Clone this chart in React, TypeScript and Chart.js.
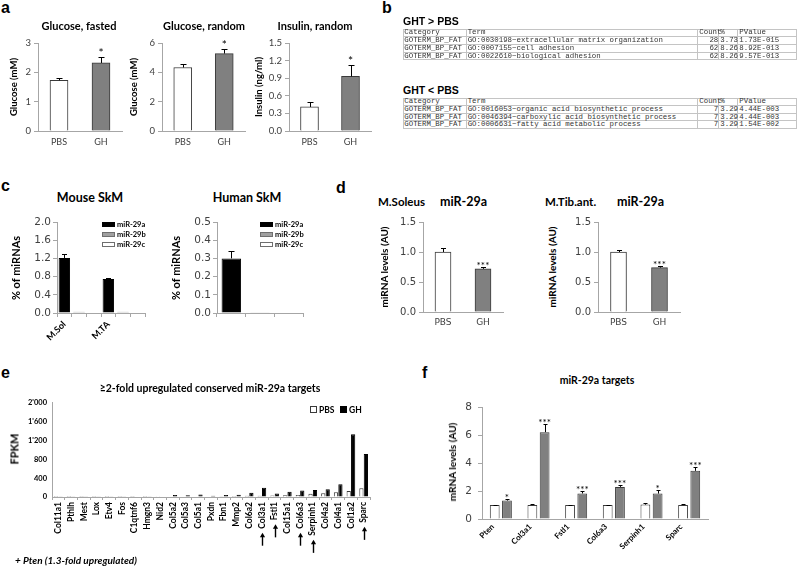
import React, { useEffect, useRef } from 'react';
import { Chart, registerables } from 'chart.js';

Chart.register(...registerables);

/* ---------------- data ---------------- */
// panel a
const treatGroups = ['PBS', 'GH'];
const glucoseFasted = [1.73, 2.32];
const glucoseFastedErr = [0.07, 0.2];
const glucoseFastedTicks = [0, 1, 2, 3];
const glucoseRandom = [4.33, 5.28];
const glucoseRandomErr = [0.27, 0.32];
const glucoseRandomTicks = [0, 2, 4, 6];
const insulinRandom = [0.41, 0.93];
const insulinRandomErr = [0.09, 0.19];
const insulinRandomTicks = [0, 0.3, 0.6, 0.9, 1.2, 1.5];
const sigA = ['', '*'];

// panel b
const goHeader = ['Category', 'Term', 'Count', '%', 'PValue'];
const goUp = [
  ['GOTERM_BP_FAT', 'GO:0030198~extracellular matrix organization', '28', '3.73', '1.73E-015'],
  ['GOTERM_BP_FAT', 'GO:0007155~cell adhesion', '62', '8.26', '8.92E-013'],
  ['GOTERM_BP_FAT', 'GO:0022610~biological adhesion', '62', '8.26', '9.57E-013'],
];
const goDown = [
  ['GOTERM_BP_FAT', 'GO:0016053~organic acid biosynthetic process', '7', '3.29', '4.44E-003'],
  ['GOTERM_BP_FAT', 'GO:0046394~carboxylic acid biosynthetic process', '7', '3.29', '4.44E-003'],
  ['GOTERM_BP_FAT', 'GO:0006631~fatty acid metabolic process', '7', '3.29', '1.54E-002'],
];

// panel c
const mirNames = ['miR-29a', 'miR-29b', 'miR-29c'];
const mouseTissues = ['M.Sol', 'M.TA'];
const mouseMir29a = [1.21, 0.75];
const mouseMir29aErr = [0.08, 0.01];
const mouseMir29b = [0.03, 0.03];
const mouseMir29c = [0, 0];
const mouseTicks = [0, 0.4, 0.8, 1.2, 1.6, 2.0];
const humanTissues = [''];
const humanMir29a = [0.3];
const humanMir29aErr = [0.04];
const humanMir29b = [0.004];
const humanMir29c = [0];
const humanTicks = [0, 0.1, 0.2, 0.3, 0.4, 0.5];

// panel d
const soleusMir29a = [1.0, 0.72];
const soleusMir29aErr = [0.07, 0.03];
const tibMir29a = [1.0, 0.74];
const tibMir29aErr = [0.03, 0.03];
const mirLevelTicks = [0, 0.5, 1.0, 1.5];
const sigD = ['', '***'];

// panel e
const targetGenes = ['Col11a1', 'Pthlh', 'Mest', 'Lox', 'Etv4', 'Fos', 'C1qtnf6', 'Hmgn3', 'Nid2', 'Col5a2', 'Col5a3', 'Col5a1', 'Pxdn', 'Fbn1', 'Mmp2', 'Col6a2', 'Col3a1', 'Fstl1', 'Col15a1', 'Col6a3', 'Serpinh1', 'Col4a2', 'Col4a1', 'Col1a2', 'Sparc'];
const fpkmPBS = [1, 1, 1, 1, 1, 1, 2, 2, 3, 10, 8, 12, 10, 15, 20, 25, 25, 30, 35, 40, 68, 80, 100, 125, 185];
const fpkmGH = [5, 4, 4, 4, 3, 4, 10, 6, 12, 42, 35, 55, 25, 40, 45, 90, 195, 75, 110, 140, 150, 165, 270, 1330, 910];
const fpkmTicks = [0, 200, 400, 600, 800, 1000, 1200, 1400, 1600, 1800, 2000];
const validatedGenes = ['Col3a1', 'Fstl1', 'Col6a3', 'Serpinh1', 'Sparc'];

// panel f
const qpcrGenes = ['Pten', 'Col3a1', 'Fstl1', 'Col6a3', 'Serpinh1', 'Sparc'];
const qpcrPBS = [1.0, 1.0, 1.0, 1.0, 1.03, 1.0];
const qpcrPBSErr = [0.03, 0.06, 0.03, 0.03, 0.1, 0.05];
const qpcrGH = [1.32, 6.22, 1.83, 2.3, 1.82, 3.45];
const qpcrGHErr = [0.08, 0.6, 0.2, 0.13, 0.27, 0.3];
const sigF = ['*', '***', '***', '***', '*', '***'];
const mrnaTicks = [0, 2, 4, 6, 8];

/* ---------------- styles ---------------- */
const FONT = 'Lato, "Liberation Sans", Arial, sans-serif';
const VFONT = '"DejaVu Sans", Verdana, sans-serif';
const ARIAL = '"Liberation Sans", Arial, sans-serif';
const MONO = '"Liberation Mono", "DejaVu Sans Mono", monospace';
const AXIS = '#a6a6a6';
const TICKC = '#404040';
const EDGE = '#3a3a3a';
const GRAYBAR = '#808080';

/* ---------------- plugins ---------------- */
const errorBars = {
  id: 'errorBars',
  afterDatasetsDraw(chart: any, _a: any, opts: any) {
    const { ctx } = chart;
    const ys = chart.scales.y;
    const cap = opts.cap ?? 6;
    chart.data.datasets.forEach((ds: any, di: number) => {
      const meta = chart.getDatasetMeta(di);
      meta.data.forEach((el: any, i: number) => {
        const v = ds.data[i];
        if (v === null || v === undefined) return;
        let top = el.y;
        const e = ds.errors ? ds.errors[i] : 0;
        const x = Math.round(el.x) + 0.5;
        if (e) {
          const yE = Math.round(ys.getPixelForValue(v + e)) + 0.5;
          ctx.save();
          ctx.strokeStyle = opts.color ?? '#000';
          ctx.lineWidth = 1;
          ctx.beginPath();
          ctx.moveTo(x, el.y);
          ctx.lineTo(x, yE);
          ctx.moveTo(x - cap / 2, yE);
          ctx.lineTo(x + cap / 2, yE);
          ctx.stroke();
          ctx.restore();
          top = yE;
        }
        const s = ds.stars ? ds.stars[i] : '';
        if (s) {
          ctx.save();
          ctx.fillStyle = '#000';
          ctx.font = opts.starFont ?? `11px ${FONT}`;
          ctx.textAlign = 'center';
          ctx.textBaseline = 'middle';
          ctx.fillText(s, el.x, top - (opts.starGap ?? 5));
          ctx.restore();
        }
      });
    });
  },
};

const geneArrows = {
  id: 'geneArrows',
  afterDraw(chart: any, _a: any, opts: any) {
    if (!opts || !opts.genes) return;
    const { ctx } = chart;
    const xs = chart.scales.x;
    ctx.save();
    ctx.font = opts.font;
    ctx.fillStyle = '#000';
    ctx.strokeStyle = '#000';
    opts.genes.forEach((g: string) => {
      const i = chart.data.labels.indexOf(g);
      if (i < 0) return;
      const px = Math.round(xs.getPixelForValue(i)) + 0.5;
      const len = ctx.measureText(g).width;
      const top = xs.top + opts.labelStart + len + opts.gap;
      const bottom = top + opts.length;
      ctx.lineWidth = 1.4;
      ctx.beginPath();
      ctx.moveTo(px, bottom);
      ctx.lineTo(px, top + 3);
      ctx.stroke();
      ctx.beginPath();
      ctx.moveTo(px, top);
      ctx.lineTo(px - 2.6, top + 4.5);
      ctx.lineTo(px + 2.6, top + 4.5);
      ctx.closePath();
      ctx.fill();
    });
    ctx.restore();
  },
};

/* ---------------- helpers ---------------- */
function yAxis(ticks: number[], font: any, fmt: (v: number) => string, o: any = {}) {
  return {
    stacked: o.stacked ?? false,
    min: ticks[0],
    max: ticks[ticks.length - 1],
    afterBuildTicks: (s: any) => {
      s.ticks = ticks.map((v) => ({ value: v }));
    },
    ticks: { font, color: o.color ?? TICKC, padding: o.padding ?? 3, callback: (v: any) => fmt(Number(v)) },
    grid: { display: true, drawOnChartArea: false, drawTicks: o.tickMarks ?? true, tickLength: o.tickLength ?? 4, color: AXIS },
    border: { display: true, color: AXIS },
  };
}

function xAxis(font: any, o: any = {}) {
  return {
    stacked: o.stacked ?? false,
    ticks: {
      font,
      color: o.color ?? TICKC,
      padding: o.padding ?? 4,
      autoSkip: false,
      minRotation: o.rot ?? 0,
      maxRotation: o.rot ?? 0,
      labelOffset: o.labelOffset ?? 0,
    },
    grid: { display: true, drawOnChartArea: false, drawTicks: o.tickMarks ?? false, tickLength: o.tickLength ?? 4, color: AXIS, offset: true },
    border: { display: true, color: AXIS },
  };
}

type Area = { l: number; t: number; r: number; b: number };

function ChartCanvas(props: { area: Area; yW: number; xH: number; padT?: number; padR?: number; make: () => any }) {
  const { area, yW, xH } = props;
  const padT = props.padT ?? 12;
  const padR = props.padR ?? 6;
  const ref = useRef<HTMLCanvasElement | null>(null);
  const w = area.r - area.l + yW + padR;
  const h = area.b - area.t + padT + xH;
  useEffect(() => {
    if (!ref.current) return;
    const cfg = props.make();
    const o = cfg.options;
    o.responsive = false;
    o.maintainAspectRatio = false;
    o.animation = false;
    o.devicePixelRatio = 1;
    o.layout = { padding: { top: padT, right: padR, left: 0, bottom: 0 } };
    o.scales.x.afterFit = (s: any) => {
      s.height = xH;
    };
    o.scales.y.afterFit = (s: any) => {
      s.width = yW;
    };
    o.plugins = Object.assign({ legend: { display: false }, tooltip: { enabled: false }, title: { display: false } }, o.plugins || {});
    const chart = new Chart(ref.current, cfg);
    return () => chart.destroy();
  }, []);
  return (
    <canvas
      ref={ref}
      width={w}
      height={h}
      style={{ position: 'absolute', left: area.l - yW, top: area.t - padT, width: w, height: h }}
    />
  );
}

function place(vals: number[], slot: number, per: number) {
  const out: (number | null)[] = new Array(vals.length * per).fill(null);
  vals.forEach((v, t) => {
    out[t * per + slot] = v;
  });
  return out;
}

const fmt0 = (v: number) => String(Math.round(v));
const fmt1 = (v: number) => v.toFixed(1);
const fmtK = (v: number) => {
  const n = Math.round(v);
  if (n >= 1000) return `${Math.floor(n / 1000)}'${String(n % 1000).padStart(3, '0')}`;
  return String(n);
};

function simpleBar(vals: number[], errs: number[], ticks: number[], fmt: (v: number) => string, stars: string[], yFont: any, xFont: any, thickness: number, starOpts: any) {
  return () => ({
    type: 'bar',
    data: {
      labels: treatGroups,
      datasets: [
        {
          data: vals,
          errors: errs,
          stars,
          backgroundColor: ['#ffffff', GRAYBAR],
          borderColor: EDGE,
          borderWidth: 1,
          barThickness: thickness,
        },
      ],
    },
    options: {
      scales: {
        x: xAxis(xFont, { padding: starOpts.xPad ?? 6 }),
        y: yAxis(ticks, yFont, fmt, { padding: starOpts.yPad ?? 3 }),
      },
      plugins: { errorBars: { cap: starOpts.cap, starFont: starOpts.starFont, starGap: starOpts.starGap } },
    },
    plugins: [errorBars],
  });
}

function mirDatasets(a: number[], aErr: number[], b: number[], c: number[], per: number) {
  return [
    { label: mirNames[0], data: place(a, 0, per), errors: place(aErr, 0, per), backgroundColor: '#000', borderColor: '#000', borderWidth: 1 },
    { label: mirNames[1], data: place(b, 1, per), backgroundColor: '#a0a0a0', borderColor: '#6e6e6e', borderWidth: 1 },
    { label: mirNames[2], data: place(c, 2, per), backgroundColor: '#ffffff', borderColor: '#6e6e6e', borderWidth: 1 },
  ];
}

/* ---------------- text helpers ---------------- */
function Txt(p: { x: number; y: number; text: string; size: number; weight?: number; family?: string; center?: boolean; italic?: boolean; color?: string }) {
  return (
    <div
      style={{
        position: 'absolute',
        left: p.x,
        top: p.y,
        transform: p.center === false ? 'translateY(-50%)' : 'translate(-50%,-50%)',
        whiteSpace: 'nowrap',
        fontFamily: p.family ?? FONT,
        fontSize: p.size,
        fontWeight: p.weight ?? 700,
        fontStyle: p.italic ? 'italic' : 'normal',
        color: p.color ?? '#000',
        lineHeight: 1,
      }}
    >
      {p.text}
    </div>
  );
}

function VTxt(p: { x: number; y: number; text: string; size: number; weight?: number; family?: string }) {
  return (
    <div
      style={{
        position: 'absolute',
        left: p.x,
        top: p.y,
        transform: 'translate(-50%,-50%) rotate(-90deg)',
        whiteSpace: 'nowrap',
        fontFamily: p.family ?? FONT,
        fontSize: p.size,
        fontWeight: p.weight ?? 700,
        lineHeight: 1,
      }}
    >
      {p.text}
    </div>
  );
}

function Letter(p: { x: number; y: number; ch: string }) {
  return (
    <div style={{ position: 'absolute', left: p.x, top: p.y, fontFamily: ARIAL, fontWeight: 700, fontSize: 16, lineHeight: 1 }}>{p.ch}</div>
  );
}

const colW = [63.4, 231.6, 21, 19, 58.4];
const rightCols = [false, false, true, true, false];

function GoTable(p: { top: number; rows: string[][] }) {
  const all = [goHeader, ...p.rows];
  const rowH = 7.8;
  let x0 = 403.3;
  const lefts = colW.map((w) => {
    const l = x0;
    x0 += w;
    return l;
  });
  return (
    <>
      {all.map((row, r) =>
        row.map((cell, c) => (
          <div
            key={`${r}-${c}`}
            style={{
              position: 'absolute',
              left: lefts[c] - (c > 0 ? 1 : 0),
              top: p.top + r * rowH - (r > 0 ? 1 : 0),
              width: colW[c] + (c > 0 ? 1 : 0),
              height: rowH + (r > 0 ? 1 : 0),
              boxSizing: 'border-box',
              border: '1px solid #c4c4c4',
            }}
          />
        ))
      )}
      {all.map((row, r) =>
        row.map((cell, c) => (
          <div
            key={`t${r}-${c}`}
            style={{
              position: 'absolute',
              left: lefts[c] + 1,
              top: p.top + r * rowH + rowH / 2,
              width: colW[c] - 2,
              transform: 'translateY(-50%)',
              fontFamily: MONO,
              fontSize: 7.4,
              lineHeight: 1,
              color: '#333',
              whiteSpace: 'nowrap',
              textAlign: r > 0 && rightCols[c] ? 'right' : 'left',
            }}
          >
            {cell}
          </div>
        ))
      )}
    </>
  );
}

function MirLegend(p: { x: number; y: number }) {
  const fills = ['#000', '#a0a0a0', '#fff'];
  const edges = ['#000', '#6e6e6e', '#6e6e6e'];
  return (
    <>
      {mirNames.map((n, i) => (
        <React.Fragment key={n}>
          <div
            style={{
              position: 'absolute',
              left: p.x,
              top: p.y + i * 10 - 2.5,
              width: 13,
              height: 5,
              boxSizing: 'border-box',
              background: fills[i],
              border: `1px solid ${edges[i]}`,
            }}
          />
          <Txt x={p.x + 15} y={p.y + i * 10} text={n} size={7.5} center={false} />
        </React.Fragment>
      ))}
    </>
  );
}

/* ---------------- app ---------------- */
export default function App() {
  useEffect(() => {
    document.body.style.margin = '0';
  }, []);

  const aY = { family: FONT, size: 9.5 };
  const aX = { family: FONT, size: 9 };
  const vY = { family: VFONT, size: 10 };
  const vX = { family: VFONT, size: 9 };
  const aStar = { cap: 6, starFont: `12px ${FONT}`, starGap: 4, xPad: 6 };
  const dStar = { cap: 5, starFont: `10px ${FONT}`, starGap: 2, xPad: 5 };

  return (
    <div style={{ position: 'absolute', left: 0, top: 0, width: 798, height: 566, background: '#fff', overflow: 'hidden' }}>
      {/* panel a */}
      <ChartCanvas area={{ l: 38, t: 43, r: 122, b: 131 }} yW={30} xH={20} make={simpleBar(glucoseFasted, glucoseFastedErr, glucoseFastedTicks, fmt0, sigA, aY, aX, 18, aStar)} />
      <ChartCanvas area={{ l: 162, t: 43, r: 245, b: 131 }} yW={26} xH={20} make={simpleBar(glucoseRandom, glucoseRandomErr, glucoseRandomTicks, fmt0, sigA, aY, aX, 18, aStar)} />
      <ChartCanvas area={{ l: 289, t: 43, r: 371, b: 131 }} yW={30} xH={20} make={simpleBar(insulinRandom, insulinRandomErr, insulinRandomTicks, fmt1, sigA, aY, aX, 18, aStar)} />

      {/* panel c */}
      <ChartCanvas
        area={{ l: 57, t: 222, r: 145, b: 313 }}
        yW={50}
        xH={50}
        make={() => ({
          type: 'bar',
          data: { labels: mouseTissues.flatMap((t) => [t, '', '']), datasets: mirDatasets(mouseMir29a, mouseMir29aErr, mouseMir29b, mouseMir29c, 3) },
          options: {
            datasets: { bar: { barPercentage: 0.78, categoryPercentage: 1 } },
            scales: {
              x: xAxis({ family: FONT, size: 9, weight: 'bold' }, { stacked: true, rot: 45, tickMarks: true, padding: 2, color: '#000' }),
              y: yAxis(mouseTicks, { family: VFONT, size: 10.5 }, fmt1, { stacked: true, padding: 2 }),
            },
            plugins: { errorBars: { cap: 5 } },
          },
          plugins: [errorBars],
        })}
      />
      <ChartCanvas
        area={{ l: 217, t: 222, r: 303, b: 313 }}
        yW={46}
        xH={10}
        make={() => ({
          type: 'bar',
          data: { labels: humanTissues.flatMap((t) => [t, '', '']), datasets: mirDatasets(humanMir29a, humanMir29aErr, humanMir29b, humanMir29c, 3) },
          options: {
            datasets: { bar: { barPercentage: 0.68, categoryPercentage: 1 } },
            scales: {
              x: xAxis({ family: FONT, size: 9, weight: 'bold' }, { stacked: true, tickMarks: true, padding: 2 }),
              y: yAxis(humanTicks, { family: VFONT, size: 10.5 }, fmt1, { stacked: true, padding: 2 }),
            },
            plugins: { errorBars: { cap: 6 } },
          },
          plugins: [errorBars],
        })}
      />

      {/* panel d */}
      <ChartCanvas area={{ l: 423, t: 222, r: 503, b: 312 }} yW={36} xH={20} make={simpleBar(soleusMir29a, soleusMir29aErr, mirLevelTicks, fmt1, sigD, vY, vX, 16, dStar)} />
      <ChartCanvas area={{ l: 598, t: 222, r: 680, b: 312 }} yW={36} xH={20} make={simpleBar(tibMir29a, tibMir29aErr, mirLevelTicks, fmt1, sigD, vY, vX, 16, dStar)} />

      {/* panel e */}
      <ChartCanvas
        area={{ l: 52, t: 401, r: 370, b: 497 }}
        yW={44}
        xH={69}
        padT={8}
        padR={8}
        make={() => ({
          type: 'bar',
          data: {
            labels: targetGenes,
            datasets: [
              { label: 'PBS', data: fpkmPBS, backgroundColor: '#fff', borderColor: EDGE, borderWidth: 1 },
              { label: 'GH', data: fpkmGH, backgroundColor: '#000', borderColor: '#000', borderWidth: 1 },
            ],
          },
          options: {
            datasets: { bar: { barPercentage: 0.95, categoryPercentage: 0.7 } },
            scales: {
              x: xAxis({ family: FONT, size: 8.5, weight: 'bold' }, { rot: 90, tickMarks: true, tickLength: 3, padding: 2, color: '#000' }),
              y: yAxis(fpkmTicks, { family: FONT, size: 7.5, weight: 'bold' }, fmtK, { tickMarks: false, padding: 5, color: '#000' }),
            },
            plugins: { geneArrows: { genes: validatedGenes, font: `bold 8.5px ${FONT}`, labelStart: 5, gap: 4, length: 13 } },
          },
          plugins: [geneArrows],
        })}
      />

      {/* panel f */}
      <ChartCanvas
        area={{ l: 482, t: 405, r: 708, b: 519 }}
        yW={40}
        xH={47}
        padT={10}
        padR={8}
        make={() => ({
          type: 'bar',
          data: {
            labels: qpcrGenes,
            datasets: [
              { label: 'PBS', data: qpcrPBS, errors: qpcrPBSErr, backgroundColor: '#fff', borderColor: EDGE, borderWidth: 1 },
              { label: 'GH', data: qpcrGH, errors: qpcrGHErr, stars: sigF, backgroundColor: GRAYBAR, borderColor: EDGE, borderWidth: 1 },
            ],
          },
          options: {
            datasets: { bar: { barPercentage: 0.8, categoryPercentage: 0.65 } },
            scales: {
              x: xAxis({ family: FONT, size: 8, weight: 'bold' }, { rot: 45, padding: 3, labelOffset: -8, color: '#000' }),
              y: yAxis(mrnaTicks, { family: VFONT, size: 10.5 }, fmt0, { padding: 6 }),
            },
            plugins: { errorBars: { cap: 4, starFont: `10px ${FONT}`, starGap: 2 } },
          },
          plugins: [errorBars],
        })}
      />

      {/* panel letters */}
      <Letter x={1} y={0} ch="a" />
      <Letter x={382} y={0} ch="b" />
      <Letter x={1} y={178} ch="c" />
      <Letter x={336} y={180} ch="d" />
      <Letter x={1} y={365} ch="e" />
      <Letter x={422} y={365} ch="f" />

      {/* panel a text */}
      <Txt x={79} y={25} text="Glucose, fasted" size={11} />
      <Txt x={204} y={25} text="Glucose, random" size={11} />
      <Txt x={315} y={25} text="Insulin, random" size={11} />
      <VTxt x={13.5} y={87} text="Glucose (mM)" size={9.5} />
      <VTxt x={134} y={87} text="Glucose (mM)" size={9.5} />
      <VTxt x={259} y={87} text="Insulin (ng/ml)" size={9.5} />

      {/* panel b */}
      <Txt x={403} y={21} text="GHT > PBS" size={10.5} family={ARIAL} center={false} />
      <GoTable top={29.3} rows={goUp} />
      <Txt x={403} y={90} text="GHT < PBS" size={10.5} family={ARIAL} center={false} />
      <GoTable top={98} rows={goDown} />

      {/* panel c text */}
      <Txt x={90} y={198} text="Mouse SkM" size={12.5} />
      <Txt x={247} y={198} text="Human SkM" size={12.5} />
      <VTxt x={15} y={268} text="% of miRNAs" size={11} />
      <VTxt x={175} y={268} text="% of miRNAs" size={11} />
      <MirLegend x={102} y={224.5} />
      <MirLegend x={260} y={224.5} />

      {/* panel d text */}
      <Txt x={378} y={202} text="M.Soleus" size={11.5} center={false} />
      <Txt x={440} y={202} text="miR-29a" size={12.5} center={false} />
      <Txt x={545} y={202} text="M.Tib.ant." size={11.5} center={false} />
      <Txt x={617} y={202} text="miR-29a" size={12.5} center={false} />
      <VTxt x={384} y={267} text="miRNA levels (AU)" size={10} />
      <VTxt x={552} y={267} text="miRNA levels (AU)" size={10} />

      {/* panel e text */}
      <Txt x={210} y={388} text="≥2-fold upregulated conserved miR-29a targets" size={10.5} />
      <VTxt x={14} y={449} text="FPKM" size={11} />
      <div style={{ position: 'absolute', left: 310, top: 406, width: 7, height: 7, boxSizing: 'border-box', border: `1px solid ${EDGE}`, background: '#fff' }} />
      <Txt x={319} y={409.5} text="PBS" size={8.5} center={false} />
      <div style={{ position: 'absolute', left: 340, top: 406, width: 7, height: 7, background: '#000' }} />
      <Txt x={349} y={409.5} text="GH" size={8.5} center={false} />
      <Txt x={15} y={560} text="+ Pten (1.3-fold upregulated)" size={10} italic center={false} />

      {/* panel f text */}
      <Txt x={597} y={380} text="miR-29a targets" size={10.5} />
      <VTxt x={452} y={462} text="mRNA levels (AU)" size={10} />
    </div>
  );
}
